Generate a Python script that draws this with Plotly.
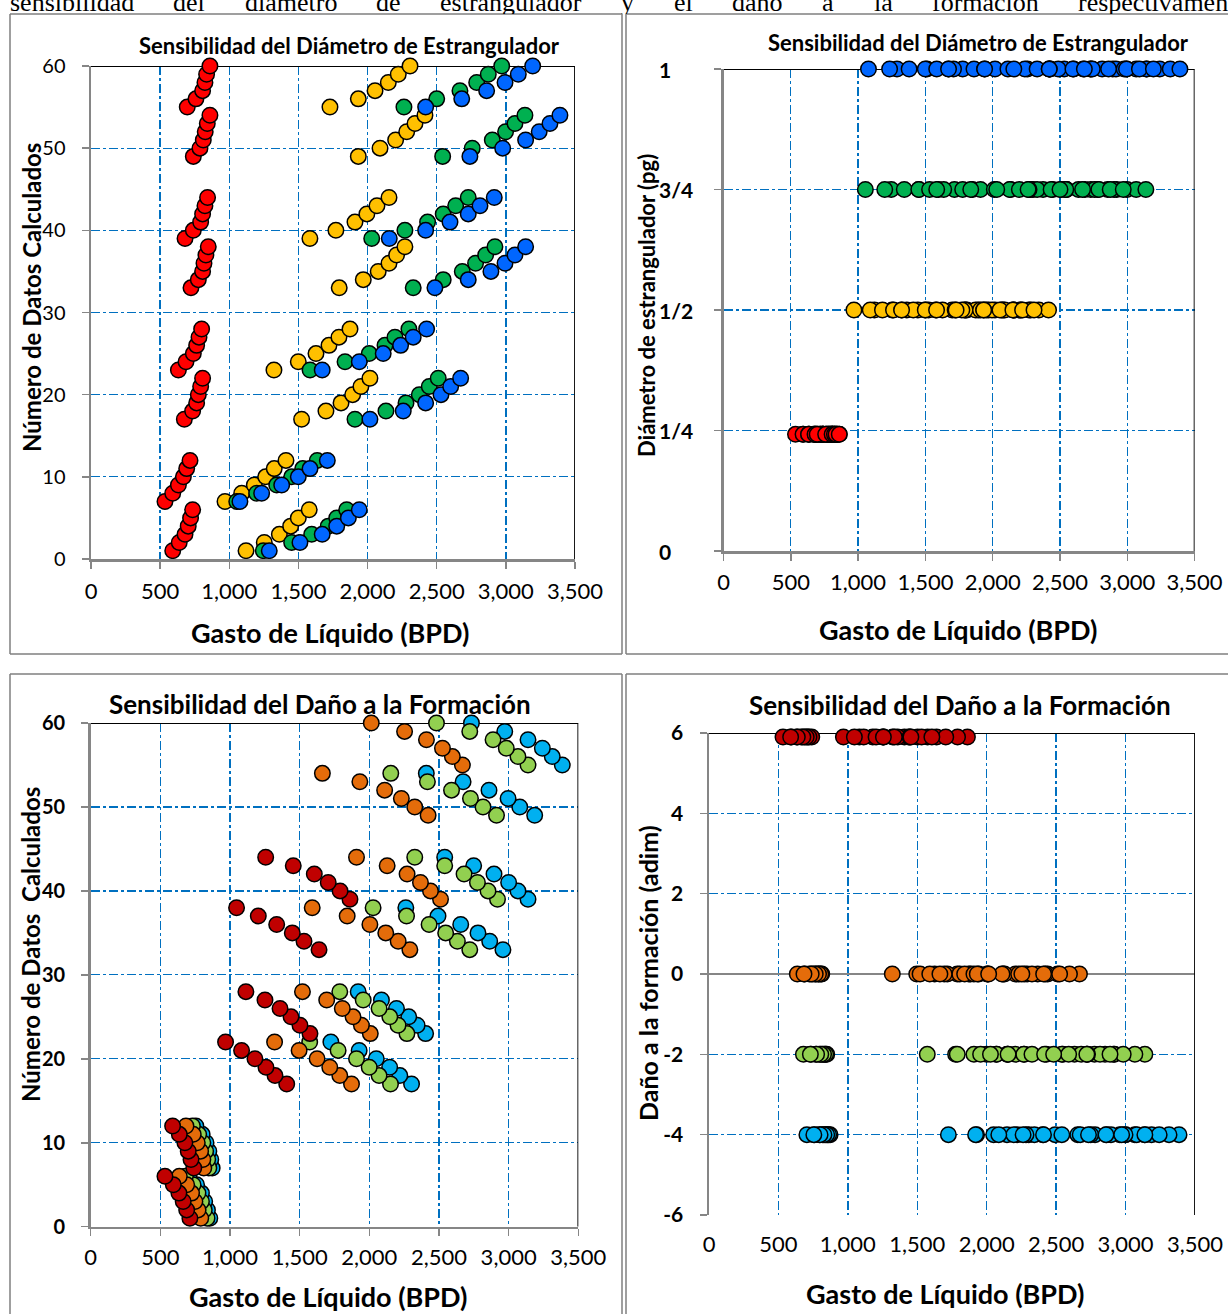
import plotly.graph_objects as go

W, H = 1228, 1314

# ---------------- DATA: Sensibilidad del Diámetro de Estrangulador ----------------
rows_choke = [1, 2, 3, 4, 5, 6, 7, 8, 9, 10, 11, 12,
              17, 18, 19, 20, 21, 22, 23, 24, 25, 26, 27, 28,
              33, 34, 35, 36, 37, 38, 39, 40, 41, 42, 43, 44,
              49, 50, 51, 52, 53, 54, 55, 56, 57, 58, 59, 60]
choke_values = [0.242, 0.5, 0.75, 1.0]
choke_ticktext = ["0", "1/4", "1/2", "3/4", "1"]
choke_tickvals = [0, 0.25, 0.5, 0.75, 1]

q_choke_14 = [591, 638, 680, 703, 720, 735, 535, 591, 632, 668, 692, 716,
              675, 735, 764, 776, 793, 807, 632, 687, 740, 764, 781, 800,
              723, 776, 807, 817, 831, 848, 680, 740, 793, 807, 824, 843,
              740, 788, 812, 826, 841, 860, 696, 759, 807, 824, 836, 860]
q_choke_12 = [1121, 1253, 1362, 1444, 1499, 1578, 969, 1090, 1181, 1263, 1325, 1410,
              1523, 1699, 1808, 1892, 1952, 2017, 1323, 1499, 1627, 1721, 1793, 1873,
              1795, 1969, 2077, 2155, 2210, 2270, 1583, 1771, 1909, 1995, 2068, 2155,
              1933, 2090, 2203, 2283, 2343, 2415, 1728, 1933, 2054, 2150, 2222, 2307]
q_choke_34 = [1246, 1451, 1596, 1716, 1777, 1849, 1054, 1198, 1343, 1451, 1531, 1636,
              1909, 2133, 2278, 2374, 2446, 2511, 1584, 1837, 2012, 2126, 2198, 2299,
              2330, 2547, 2685, 2781, 2854, 2921, 2030, 2270, 2434, 2547, 2637, 2728,
              2543, 2757, 2902, 2998, 3066, 3138, 2263, 2500, 2668, 2789, 2873, 2970]
q_choke_1 = [1289, 1511, 1672, 1777, 1861, 1940, 1077, 1234, 1379, 1499, 1584, 1709,
             2017, 2258, 2420, 2531, 2601, 2673, 1672, 1940, 2113, 2239, 2330, 2427,
             2487, 2728, 2892, 2994, 3066, 3143, 2157, 2420, 2596, 2728, 2813, 2916,
             2740, 2977, 3143, 3241, 3319, 3391, 2420, 2681, 2861, 2994, 3090, 3194]
choke_colors = ["#FF0000", "#FFC000", "#00B050", "#0066FF"]

# ---------------- DATA: Sensibilidad del Daño a la Formación ----------------
rows_damage_s6 = [1, 2, 3, 4, 5, 6, 7, 8, 9, 10, 11, 12,
                  17, 18, 19, 20, 21, 22, 23, 24, 25, 26, 27, 28,
                  33, 34, 35, 36, 37, 38, 39, 40, 41, 42, 43, 44]
rows_damage = [1, 2, 3, 4, 5, 6, 7, 8, 9, 10, 11, 12,
               17, 18, 19, 20, 21, 22, 23, 24, 25, 26, 27, 28,
               33, 34, 35, 36, 37, 38, 39, 40, 41, 42, 43, 44,
               49, 50, 51, 52, 53, 54, 55, 56, 57, 58, 59, 60]
damage_values = [5.9, 0, -2, -4]
damage_ticks = [-6, -4, -2, 0, 2, 4, 6]

q_dmg_p6 = [712, 689, 664, 633, 593, 533, 740, 720, 700, 676, 636, 588,
            1407, 1323, 1258, 1179, 1083, 968, 1574, 1502, 1438, 1359, 1251, 1114,
            1639, 1531, 1447, 1335, 1203, 1047, 1861, 1790, 1705, 1605, 1454, 1256]
q_dmg_0 = [790, 771, 748, 724, 689, 636, 812, 805, 789, 765, 736, 684,
           1872, 1788, 1716, 1625, 1496, 1320, 2007, 1943, 1883, 1806, 1694, 1520,
           2291, 2207, 2118, 2004, 1841, 1590, 2511, 2439, 2367, 2271, 2128, 1908,
           2422, 2326, 2230, 2110, 1932, 1663, 2668, 2596, 2525, 2410, 2253, 2014]
q_dmg_m2 = [835, 815, 795, 770, 735, 680, 848, 840, 825, 805, 775, 730,
            2152, 2070, 1999, 1908, 1776, 1572, 2270, 2206, 2147, 2070, 1956, 1788,
            2721, 2632, 2548, 2429, 2267, 2027, 2920, 2852, 2776, 2680, 2541, 2326,
            2913, 2816, 2726, 2590, 2417, 2154, 3139, 3067, 2983, 2888, 2721, 2482]
q_dmg_m4 = [855, 838, 818, 795, 760, 705, 872, 862, 848, 828, 800, 755,
            2303, 2219, 2146, 2050, 1927, 1724, 2404, 2343, 2283, 2195, 2087, 1920,
            2959, 2864, 2780, 2656, 2493, 2262, 3139, 3067, 3000, 2895, 2749, 2541,
            3187, 3080, 2996, 2859, 2673, 2409, 3385, 3313, 3242, 3139, 2972, 2733]
damage_colors = ["#C00000", "#E46C0A", "#92D050", "#00B0F0"]

x_ticks = [0, 500, 1000, 1500, 2000, 2500, 3000, 3500]
rows_ticks = [0, 10, 20, 30, 40, 50, 60]

# cropped line of body text above the charts (justified in the source page)
intro_words = ["sensibilidad", "del", "diámetro", "de", "estrangulador", "y", "el",
               "daño", "a", "la", "formación", "respectivamen"]

# ---------------- FIGURE ----------------
FONT = "Lato"
TICK = 22
YTICK = 20
fig = go.Figure()

def mk(color):
    return dict(size=15.5, color=color, line=dict(color="black", width=1.5))

choke_series = [q_choke_14, q_choke_12, q_choke_34, q_choke_1]
for q, c in zip(choke_series, choke_colors):
    fig.add_trace(go.Scatter(x=q, y=rows_choke, mode="markers", marker=mk(c),
                             xaxis="x", yaxis="y", cliponaxis=False, showlegend=False))
for q, c, dv in zip(choke_series, choke_colors, choke_values):
    fig.add_trace(go.Scatter(x=q, y=[dv] * len(q), mode="markers", marker=mk(c),
                             xaxis="x2", yaxis="y2", cliponaxis=False, showlegend=False))

damage_series = [q_dmg_p6, q_dmg_0, q_dmg_m2, q_dmg_m4]
damage_rows = [rows_damage_s6, rows_damage, rows_damage, rows_damage]
for i in [3, 2, 1, 0]:
    fig.add_trace(go.Scatter(x=damage_series[i], y=damage_rows[i], mode="markers",
                             marker=mk(damage_colors[i]), xaxis="x3", yaxis="y3",
                             cliponaxis=False, showlegend=False))
for i in [3, 2, 1, 0]:
    q = damage_series[i]
    fig.add_trace(go.Scatter(x=q, y=[damage_values[i]] * len(q), mode="markers",
                             marker=mk(damage_colors[i]), xaxis="x4", yaxis="y4",
                             cliponaxis=False, showlegend=False))

# the cropped page text, drawn in its own strip so that the top is clipped
intro_x = [10, 173, 245, 376, 440, 621, 674, 732, 822, 874, 932, 1078]
fig.add_trace(go.Scatter(x=intro_x, y=[0.66] * len(intro_words), text=intro_words,
                         mode="text", textposition="middle right", xaxis="x5", yaxis="y5",
                         cliponaxis=True, showlegend=False, hoverinfo="skip",
                         textfont=dict(family="Liberation Serif", size=26, color="black")))

def PX(p):
    return p / W

def PY(p):
    return 1 - p / H

def dx(a, b):
    return [PX(a), PX(b)]

def dy(top, bottom):
    return [PY(bottom), PY(top)]

GRID = dict(showgrid=True, gridcolor="#0070C0", griddash="dashdot", gridwidth=1.3,
            zeroline=False, ticks="outside", ticklen=7, tickcolor="#868686", tickwidth=1.5,
            showline=True, linecolor="#868686", linewidth=2.5, fixedrange=True,
            automargin=False)

def xax(domain, anchor, standoff=6):
    d = dict(GRID)
    d.update(domain=domain, anchor=anchor, range=[0, 3500], tickvals=x_ticks,
             tickformat=",d", tickfont=dict(family=FONT, size=TICK, color="black"),
             ticklabelstandoff=standoff)
    return d

HIDDEN = dict(visible=False, showgrid=False, zeroline=False, fixedrange=True, automargin=False)

fig.update_layout(
    width=W, height=H, autosize=False,
    margin=dict(l=0, r=0, t=0, b=0, pad=0, autoexpand=False),
    paper_bgcolor="white", plot_bgcolor="rgba(0,0,0,0)",
    font=dict(family=FONT, color="black"), dragmode=False, hovermode=False,
    xaxis=xax(dx(91, 575), "y", 4),
    yaxis=dict(GRID, domain=dy(66, 559), anchor="x", range=[0, 60], tickvals=rows_ticks,
               tickfont=dict(family=FONT, size=YTICK, color="black"), ticklabelstandoff=12),
    xaxis2=xax(dx(723.5, 1194.6), "y2", 3),
    yaxis2=dict(GRID, domain=dy(69, 551), anchor="x2", range=[0, 1],
                tickvals=choke_tickvals, showticklabels=False),
    xaxis3=xax(dx(90.7, 578.3), "y3", 2),
    yaxis3=dict(GRID, domain=dy(723, 1226.7), anchor="x3", range=[0, 60],
                tickvals=rows_ticks, ticktext=[f"<b>{v}</b>" for v in rows_ticks],
                tickfont=dict(family=FONT, size=YTICK, color="black"), ticklabelstandoff=12),
    xaxis4=dict(xax(dx(709, 1195), "y4", 14), showline=False, ticks=""),
    yaxis4=dict(GRID, domain=dy(733, 1215), anchor="x4", range=[-6, 6],
                tickvals=damage_ticks, ticktext=[f"<b>{v}</b>" for v in damage_ticks],
                zeroline=True, zerolinecolor="#868686", zerolinewidth=2,
                tickfont=dict(family=FONT, size=TICK - 1, color="black"), ticklabelstandoff=12),
    xaxis5=dict(HIDDEN, domain=[0, 1], anchor="y5", range=[0, W]),
    yaxis5=dict(HIDDEN, domain=dy(0, 14), anchor="x5", range=[0, 1]),
)

# left-aligned bold fractions for the choke-diameter axis
for v, t in zip(choke_tickvals, choke_ticktext):
    fig.add_annotation(text=f"<b>{t}</b>", x=PX(657), y=v, xref="paper", yref="y2",
                       xanchor="left", yanchor="middle", showarrow=False,
                       font=dict(family=FONT, size=TICK - 1, color="black"))

shapes = []
FRAME = dict(color="#7F7F7F", width=1.5)
frame_segments = [
    (10, 14, 622, 14), (10, 654, 622, 654), (10, 14, 10, 654), (622, 14, 622, 654),
    (626, 14, W, 14), (626, 654, W, 654), (626, 14, 626, 654),
    (10, 674, 622, 674), (10, 674, 10, H), (622, 674, 622, H),
    (626, 674, W, 674), (626, 674, 626, H),
]
for (x0, y0, x1, y1) in frame_segments:
    shapes.append(dict(type="line", xref="paper", yref="paper",
                       x0=PX(x0), x1=PX(x1), y0=PY(y0), y1=PY(y1), line=FRAME, layer="below"))
for ax, (ylo, yhi) in zip(["", "2", "3", "4"], [(0, 60), (0, 1), (0, 60), (-6, 6)]):
    shapes.append(dict(type="line", xref=f"x{ax}", yref=f"y{ax}",
                       x0=0, x1=3500, y0=yhi, y1=yhi, line=dict(color="black", width=1.8),
                       layer="between"))
    shapes.append(dict(type="line", xref=f"x{ax}", yref=f"y{ax}",
                       x0=3500, x1=3500, y0=ylo, y1=yhi, line=dict(color="black", width=1.8),
                       layer="between"))
fig.update_layout(shapes=shapes)

def ann(text, x, y, size, angle=0, bold=True, xanchor="center", yanchor="middle", fam=FONT):
    fig.add_annotation(text=f"<b>{text}</b>" if bold else text, x=PX(x), y=PY(y),
                       xref="paper", yref="paper", showarrow=False, textangle=angle,
                       xanchor=xanchor, yanchor=yanchor,
                       font=dict(family=fam, size=size, color="black"))

ann("Sensibilidad del Diámetro de Estrangulador", 349, 45, 22)
ann("Sensibilidad del Diámetro de Estrangulador", 978, 42, 22)
ann("Sensibilidad del Daño a la Formación", 320, 704, 26)
ann("Sensibilidad del Daño a la Formación", 960, 705, 26)
ann("Gasto de Líquido (BPD)", 330, 632, 27)
ann("Gasto de Líquido (BPD)", 958, 630, 27)
ann("Gasto de Líquido (BPD)", 328, 1296, 27)
ann("Gasto de Líquido (BPD)", 945, 1293, 27)
ann("Número de Datos Calculados", 31, 298, 24, angle=-90)
ann("Diámetro de estrangulador (pg)", 646, 306, 22, angle=-90)
ann("Número de Datos  Calculados", 30, 945, 24, angle=-90)
ann("Daño a la formación (adim)", 648, 973, 25, angle=-90)

fig.write_html("out.html",
               config={"responsive": False, "displayModeBar": False, "staticPlot": True},
               post_script="document.body.style.margin='0px';document.body.style.overflow='hidden';")
